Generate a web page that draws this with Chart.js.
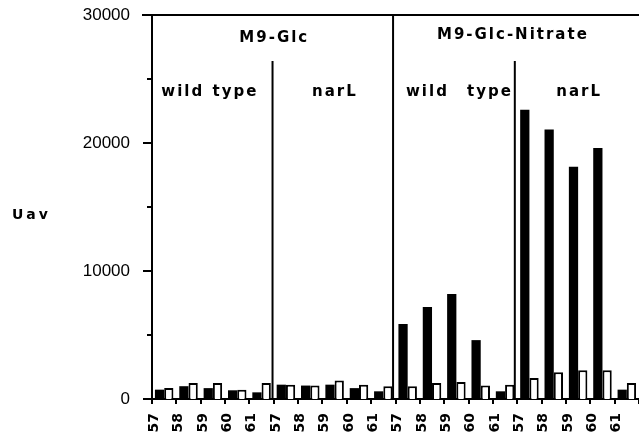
<!DOCTYPE html>
<html>
<head>
<meta charset="utf-8">
<script src="https://cdn.jsdelivr.net/npm/chart.js@4"></script>
<style>
  html, body { margin: 0; padding: 0; background: #fff; }
  #wrap { width: 639px; height: 433px; }
</style>
</head>
<body>
<div id="wrap"><canvas id="chart" width="639" height="433"></canvas></div>
<script>
// strain numbers along the x axis, four blocks of five
const strains = ['57', '58', '59', '60', '61'];
const categories = [].concat(strains, strains, strains, strains);

// black (filled) and white (open) bars
const blackValues = [730, 1000, 850, 680, 520, 1120, 1050, 1120, 850, 600,
                     5860, 7190, 8200, 4600, 600, 22600, 21050, 18150, 19600, 730];
const whiteValues = [860, 1250, 1250, 730, 1250, 1120, 1050, 1440, 1120, 1000,
                     1000, 1250, 1330, 1050, 1120, 1640, 2090, 2240, 2240, 1250];

const yMax = 30000;
const yStep = 5000;
const yTickLabels = [0, 10000, 20000, 30000];

// group headers and block labels, placed by category index
const mediumLabels = [
  { text: 'M9-Glc', at: 4.48, y: 38 },
  { text: 'M9-Glc-Nitrate', at: 14.28, y: 35 }
];
const strainLabels = [
  { text: 'wild', at: 0.72 }, { text: 'type', at: 2.89 }, { text: 'narL', at: 6.97 },
  { text: 'wild', at: 10.77 }, { text: 'type', at: 13.34 }, { text: 'narL', at: 17.0 }
];
// dividers: position (category index) and whether they run full height
const dividers = [
  { at: 4.45, full: false },
  { at: 9.4, full: true },
  { at: 14.4, full: false }
];

const FONT = '"Liberation Sans", Arial, Helvetica, sans-serif';
const HEAVY = '"DejaVu Sans", "Liberation Sans", sans-serif';

// draws the extra bits: top line, y ticks, dividers, labels
const decorations = {
  id: 'decorations',
  afterDraw(chart) {
    const ctx = chart.ctx;
    const x = chart.scales.x;
    const y = chart.scales.y;
    const area = chart.chartArea;
    ctx.save();
    ctx.strokeStyle = '#000';
    ctx.fillStyle = '#000';
    ctx.lineWidth = 2;

    // top frame line
    const top = y.getPixelForValue(yMax);
    ctx.beginPath();
    ctx.moveTo(area.left - 10, top);
    ctx.lineTo(chart.width, top);
    ctx.stroke();

    // y ticks: long on labelled values, short otherwise
    for (let v = 0; v <= yMax; v += yStep) {
      const py = y.getPixelForValue(v);
      const len = yTickLabels.includes(v) ? 9 : 5;
      ctx.beginPath();
      ctx.moveTo(area.left - len, py);
      ctx.lineTo(area.left, py);
      ctx.stroke();
    }

    // vertical dividers
    dividers.forEach((d) => {
      const px = x.getPixelForValue(d.at);
      ctx.beginPath();
      ctx.moveTo(px, d.full ? top : 61);
      ctx.lineTo(px, area.bottom);
      ctx.stroke();
    });

    // text labels
    ctx.textBaseline = 'middle';
    ctx.textAlign = 'center';
    ctx.font = 'bold 15px ' + HEAVY;
    ctx.letterSpacing = '2px';
    mediumLabels.forEach((l) => {
      ctx.fillText(l.text, x.getPixelForValue(l.at) + 1, l.y);
    });
    strainLabels.forEach((l) => {
      ctx.fillText(l.text, x.getPixelForValue(l.at) + 1, 92);
    });

    ctx.font = 'bold 14px ' + HEAVY;
    ctx.letterSpacing = '3px';
    ctx.textAlign = 'left';
    ctx.fillText('Uav', 12, 215);
    ctx.restore();
  }
};

new Chart(document.getElementById('chart'), {
  type: 'bar',
  data: {
    labels: categories,
    datasets: [
      {
        label: 'black',
        data: blackValues,
        backgroundColor: '#000',
        borderWidth: 0,
        categoryPercentage: 0.76,
        barPercentage: 1.0
      },
      {
        label: 'white',
        data: whiteValues,
        backgroundColor: '#fff',
        borderColor: '#000',
        borderWidth: 2,
        borderSkipped: 'bottom',
        categoryPercentage: 0.76,
        barPercentage: 1.0
      }
    ]
  },
  options: {
    responsive: false,
    animation: false,
    layout: { padding: { top: 15, right: -4, left: 0, bottom: 0 } },
    plugins: {
      legend: { display: false },
      tooltip: { enabled: false }
    },
    scales: {
      x: {
        offset: true,
        grid: {
          display: true,
          offset: true,
          drawOnChartArea: false,
          color: '#000',
          lineWidth: 2,
          tickLength: 5
        },
        border: { display: true, color: '#000', width: 2 },
        ticks: {
          autoSkip: false,
          minRotation: 90,
          maxRotation: 90,
          padding: 9,
          labelOffset: -10,
          color: '#000',
          font: { family: HEAVY, size: 14, weight: 'bold' }
        },
        afterFit(scale) {
          scale.height = 34;
          scale.paddingLeft = 0;
          scale.paddingRight = 0;
        }
      },
      y: {
        min: 0,
        max: yMax,
        grid: { display: false },
        border: { display: true, color: '#000', width: 2 },
        ticks: {
          stepSize: yStep,
          padding: 14,
          color: '#000',
          font: { family: FONT, size: 17 },
          callback: (v) => (yTickLabels.includes(v) ? String(v) : '')
        },
        afterFit(scale) {
          scale.width = 152;
          scale.paddingTop = 0;
          scale.paddingBottom = 0;
        }
      }
    }
  },
  plugins: [decorations]
});
</script>
</body>
</html>
